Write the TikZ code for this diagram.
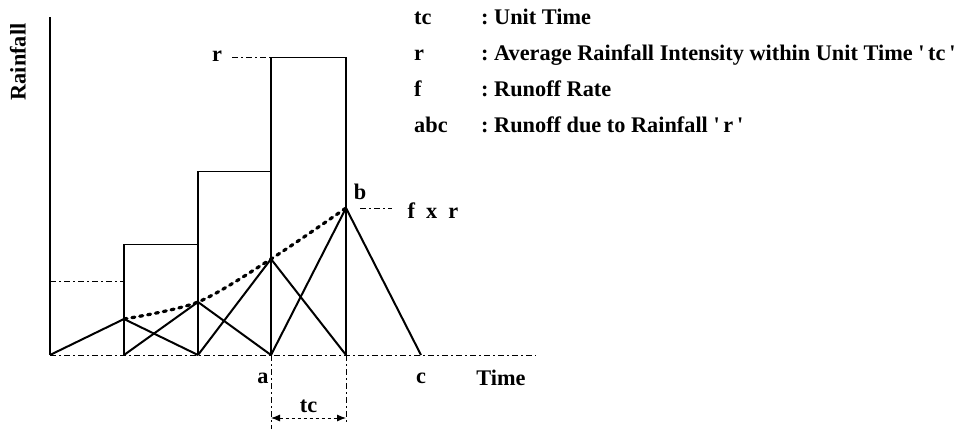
\documentclass[tikz,border=0pt]{standalone}
\usepackage{fontspec}
\setmainfont{Liberation Serif}
\usetikzlibrary{arrows.meta}
\begin{document}
\begin{tikzpicture}[
        x=1pt, y=-1pt,
        lbl/.style={font=\fontsize{22.3}{24}\selectfont\bfseries, inner sep=0pt},
        axisline/.style={line width=2pt},
        bar/.style={line width=1.6pt},
        bartop/.style={line width=1pt},
        guide/.style={line width=0.9pt, dash pattern=on 6pt off 3pt on 2pt off 3pt},
        runoff/.style={line width=2pt},
        peakcurve/.style={line width=3.2pt, line cap=round, dash pattern=on 3pt off 5pt},
        span/.style={{Latex[length=9pt,width=7pt]}-{Latex[length=9pt,width=7pt]}, line width=0.9pt, dash pattern=on 3pt off 3pt}
    ]
        \useasboundingbox (0,0) rectangle (956,429);

        % Time steps on the axis
        \coordinate (o) at (50,355);
        \coordinate (t1) at (124,355);
        \coordinate (t2) at (198,355);
        \coordinate (a) at (271,355);
        \coordinate (t4) at (346,355);
        \coordinate (c) at (421,355);
        \coordinate (tend) at (536,355);
        \coordinate (ytop) at (50,17);

        % Peaks of runoff
        \coordinate (p1) at (124,319);
        \coordinate (p2) at (198,302);
        \coordinate (p3) at (271,259);
        \coordinate (p4) at (346,208);

        % Axes
        \draw[axisline] (ytop) -- (o);
        \draw[guide] (o) -- (tend);
        \node[lbl, rotate=90] (rainfall) at (18,62) {Rainfall};
        \node[lbl] (time) at (501,378) {Time};

        % Rainfall bars
        \draw[guide] (o |- 0,281) -- (t1 |- 0,281);
        \draw[bar] (t1) -- (t1 |- 0,244);
        \draw[bartop] (t1 |- 0,244) -- (t2 |- 0,244);
        \draw[bar] (t2) -- (t2 |- 0,171);
        \draw[bartop] (t2 |- 0,171) -- (a |- 0,171);
        \draw[bar] (a) -- (a |- 0,57);
        \draw[bartop] (a |- 0,57) -- (t4 |- 0,57);
        \draw[axisline] (t4) -- (t4 |- 0,57);
        \node[lbl] (rlvl) at (217,56) {r};
        \coordinate (rstart) at (232,57);
        \draw[guide] (rstart) -- (a |- 0,57);

        % Runoff triangles
        \draw[runoff] (o) -- (p1) -- (t2);
        \draw[runoff] (t1) -- (p2) -- (a);
        \draw[runoff] (t2) -- (p3) -- (t4);
        \draw[runoff] (a) -- (p4) -- (c);
        \draw[peakcurve] plot[smooth, tension=0.5] coordinates {(p1) (p2) (p3) (p4)};

        % Peak b
        \node[lbl] (b) at (360,192) {b};
        \coordinate (fxrstart) at (360,208);
        \coordinate (fxrend) at (392,208);
        \node[lbl] (fxr) at (433,211) {f\,\,\,x\,\,\,r};
        \draw[guide] (fxrstart) -- (fxrend);

        % Points a and c
        \node[lbl] (alabel) at (263,378) {a};
        \node[lbl] (clabel) at (421,378) {c};

        % Unit time span
        \coordinate (abot) at (271,429);
        \coordinate (bbot) at (346,424);
        \draw[guide] (a) -- (abot);
        \draw[guide] (t4) -- (bbot);
        \draw[span] (271,418) coordinate (sl) -- node[lbl, above=5pt] (tc) {tc} (346,418) coordinate (sr);

        % Legend
        \foreach \key/\txt [count=\i] in {tc/Unit Time,
            r/Average Rainfall Intensity within Unit Time \textquotesingle\,tc\,\textquotesingle,
            f/Runoff Rate,
            abc/Runoff due to Rainfall \textquotesingle\,r\,\textquotesingle} {
            \node[lbl, anchor=base west] (key\i) at (414, -12+36*\i) {\key};
            \node[lbl, anchor=base west] (txt\i) at (481, -12+36*\i) {:\ \txt};
        }
    \end{tikzpicture}
\end{document}
